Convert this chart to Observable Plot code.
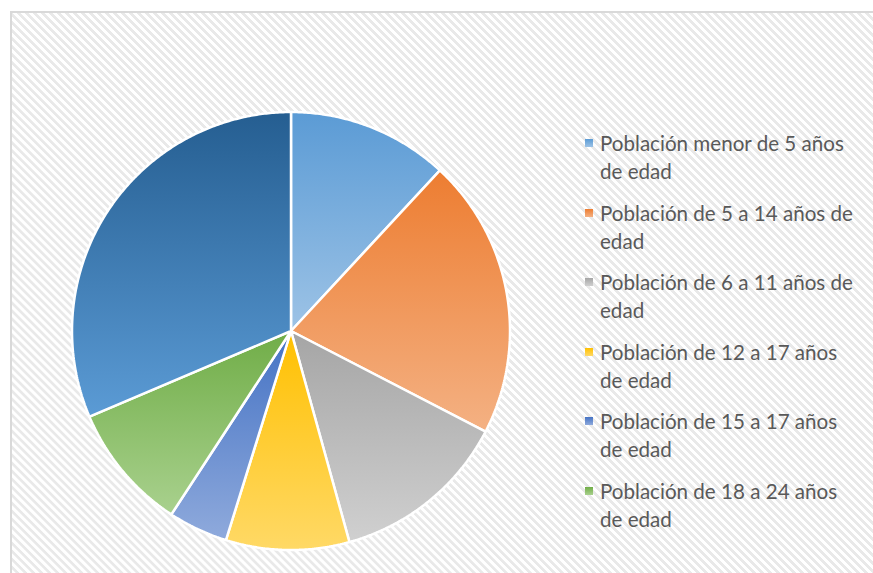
<!DOCTYPE html>
<html>
<head>
<meta charset="utf-8">
<script src="https://cdn.jsdelivr.net/npm/d3@7"></script>
<script src="https://cdn.jsdelivr.net/npm/@observablehq/plot@0.6"></script>
<style>
  html, body { margin: 0; padding: 0; background: #fff; width: 873px; height: 573px; overflow: hidden; }
  #frame {
    position: absolute; left: 10px; top: 11px; width: 900px; height: 600px;
    border-top: 2px solid #d9d9d9; border-left: 2px solid #d9d9d9;
    background: repeating-linear-gradient(45deg, #ffffff 0px, #ffffff 2.6px, #e9e9e9 2.9px, #e9e9e9 5.4px, #ffffff 5.66px);
  }
  #chart { position: absolute; left: 0; top: 0; }
  #legend { position: absolute; left: 584px; top: 129px; font-family: Lato, "Open Sans", sans-serif; font-size: 20.6px; color: #595959; }
  .item { position: relative; height: 69.6px; padding-left: 16px; line-height: 28px; white-space: pre-line; }
  .sw { position: absolute; left: 1px; top: 10px; width: 8px; height: 8px; }
</style>
</head>
<body>
<div id="frame"></div>
<div id="chart"></div>
<div id="legend"></div>
<script>
const categories = [
  "Población menor de 5 años\nde edad",
  "Población de 5 a 14 años de\nedad",
  "Población de 6 a 11 años de\nedad",
  "Población de 12 a 17 años\nde edad",
  "Población de 15 a 17 años\nde edad",
  "Población de 18 a 24 años\nde edad",
  "Población de 25 años y más"
];
const values = [11.9, 20.7, 13.1, 9.1, 4.4, 9.4, 31.4];
const topColors = ["#5B9BD5", "#ED7D31", "#A5A5A5", "#FFC000", "#4472C4", "#70AD47", "#255E91"];
const bottomColors = ["#9DC3E6", "#F4B183", "#D0D0D0", "#FFD966", "#8FAADC", "#A9D18E", "#5B9BD5"];
const legendCount = 6;

// build polygon points for each slice (angles clockwise from 12 o'clock)
const total = d3.sum(values);
const points = [];
let start = 0;
values.forEach((v, i) => {
  const end = start + v / total * 2 * Math.PI;
  const key = categories[i];
  points.push({key, x: 0, y: 0});
  const n = Math.max(2, Math.ceil((end - start) / (Math.PI / 360)));
  for (let k = 0; k <= n; k++) {
    const a = start + (end - start) * k / n;
    points.push({key, x: Math.sin(a), y: Math.cos(a)});
  }
  points.push({key, x: 0, y: 0});
  start = end;
});

const W = 873, H = 573;
const cx = 290.5, cy = 330.5, R = 219;

const plot = Plot.plot({
  width: W, height: H,
  marginLeft: cx - R, marginRight: W - (cx + R),
  marginTop: cy - R, marginBottom: H - (cy + R),
  style: {background: "transparent", overflow: "visible"},
  x: {domain: [-1, 1], axis: null},
  y: {domain: [-1, 1], axis: null},
  color: {type: "ordinal", domain: categories, range: categories.map((_, i) => `url(#sliceGrad${i})`)},
  marks: [
    Plot.line(points, {x: "x", y: "y", z: "key", fill: "key", stroke: "white", strokeWidth: 2.5, strokeLinejoin: "miter", curve: "linear"})
  ]
});

// gradients
const ns = "http://www.w3.org/2000/svg";
const defs = document.createElementNS(ns, "defs");
categories.forEach((_, i) => {
  const g = document.createElementNS(ns, "linearGradient");
  g.setAttribute("id", `sliceGrad${i}`);
  g.setAttribute("x1", "0"); g.setAttribute("y1", "0");
  g.setAttribute("x2", "0"); g.setAttribute("y2", "1");
  [[0, topColors[i]], [1, bottomColors[i]]].forEach(([o, c]) => {
    const s = document.createElementNS(ns, "stop");
    s.setAttribute("offset", o); s.setAttribute("stop-color", c);
    g.appendChild(s);
  });
  defs.appendChild(g);
});
plot.insertBefore(defs, plot.firstChild);
document.getElementById("chart").appendChild(plot);

// legend
const legend = d3.select("#legend");
categories.slice(0, legendCount).forEach((c, i) => {
  const item = legend.append("div").attr("class", "item");
  item.append("div").attr("class", "sw")
    .style("background", `linear-gradient(${topColors[i]}, ${bottomColors[i]})`);
  item.append("span").text(c);
});
</script>
</body>
</html>
